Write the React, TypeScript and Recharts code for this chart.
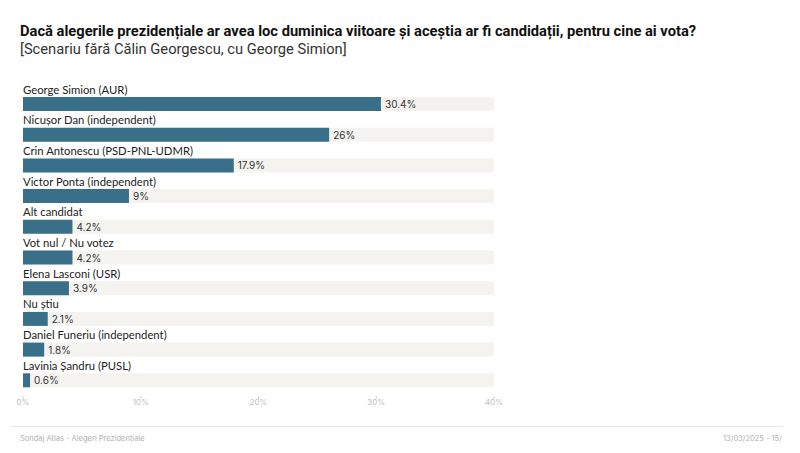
import React from "react";
import { BarChart, Bar, XAxis, YAxis, LabelList } from "recharts";

const candidates = [
  "George Simion (AUR)",
  "Nicușor Dan (independent)",
  "Crin Antonescu (PSD-PNL-UDMR)",
  "Victor Ponta (independent)",
  "Alt candidat",
  "Vot nul / Nu votez",
  "Elena Lasconi (USR)",
  "Nu știu",
  "Daniel Funeriu (independent)",
  "Lavinia Șandru (PUSL)",
];
const shares = [30.4, 26, 17.9, 9, 4.2, 4.2, 3.9, 2.1, 1.8, 0.6];
const axisTicks = [0, 10, 20, 30, 40];

const title = "Dacă alegerile prezidențiale ar avea loc duminica viitoare și aceștia ar fi candidații, pentru cine ai vota?";
const subtitle = "[Scenariu fără Călin Georgescu, cu George Simion]";
const footerLeft = "Sondaj Atlas - Alegeri Prezidențiale";
const footerRight = "13/03/2025 - 15/";

const data = candidates.map((name, i) => ({ name, value: shares[i] }));

const NameLabel = (props: any) => {
  const { x, y, index } = props;
  return (
    <text x={x} y={y - 3.5} fontFamily="Lato" fontSize={11.3} fill="#222">
      {candidates[index]}
    </text>
  );
};

const ValueLabel = (props: any) => {
  const { x, y, width, height, value } = props;
  return (
    <text
      x={x + width + 4}
      y={y + height / 2}
      dominantBaseline="central"
      fontFamily="Inter"
      fontSize={10}
      fill="#333"
    >
      {`${value}%`}
    </text>
  );
};

export default function App() {
  return (
    <div
      style={{
        position: "absolute",
        left: 0,
        top: 0,
        width: 800,
        height: 453,
        background: "#fff",
        overflow: "hidden",
      }}
    >
      <div
        style={{
          position: "absolute",
          left: 20,
          top: 22,
          fontFamily: "Roboto",
          fontWeight: 700,
          fontSize: 14.7,
          color: "#111",
          whiteSpace: "nowrap",
          lineHeight: "18px",
        }}
      >
        {title}
      </div>
      <div
        style={{
          position: "absolute",
          left: 20,
          top: 40,
          fontFamily: "Roboto",
          fontSize: 14.7,
          color: "#333",
          whiteSpace: "nowrap",
          lineHeight: "18px",
        }}
      >
        {subtitle}
      </div>
      <div style={{ position: "absolute", left: 0, top: 0 }}>
        <BarChart
          width={800}
          height={453}
          data={data}
          layout="vertical"
          margin={{ top: 89, right: 306, bottom: 43, left: 23 }}
          barCategoryGap={0}
        >
          <XAxis
            type="number"
            domain={[0, 40]}
            ticks={axisTicks}
            tickFormatter={(v: number) => `${v}%`}
            axisLine={false}
            tickLine={{ stroke: "#d0d0d0" }}
            tickSize={3}
            tickMargin={0}
            height={14}
            tick={{ fontFamily: "Inter", fontSize: 8, fill: "#c0c0c0" }}
            interval={0}
          />
          <YAxis type="category" dataKey="name" hide />
          <Bar
            dataKey="value"
            fill="#3a6f89"
            barSize={14}
            background={{ fill: "#f4f3f0" }}
            isAnimationActive={false}
          >
            <LabelList dataKey="value" content={<ValueLabel />} />
            <LabelList dataKey="name" content={<NameLabel />} />
          </Bar>
        </BarChart>
      </div>
      <div
        style={{
          position: "absolute",
          left: 12,
          top: 426,
          width: 771,
          height: 1,
          background: "#e8e8e8",
        }}
      />
      <div
        style={{
          position: "absolute",
          left: 20,
          top: 434,
          fontFamily: "Inter",
          fontSize: 7.5,
          color: "#b0b0b0",
          whiteSpace: "nowrap",
        }}
      >
        {footerLeft}
      </div>
      <div
        style={{
          position: "absolute",
          left: 723,
          top: 434,
          fontFamily: "Inter",
          fontSize: 7.5,
          color: "#b0b0b0",
          whiteSpace: "nowrap",
        }}
      >
        {footerRight}
      </div>
    </div>
  );
}
